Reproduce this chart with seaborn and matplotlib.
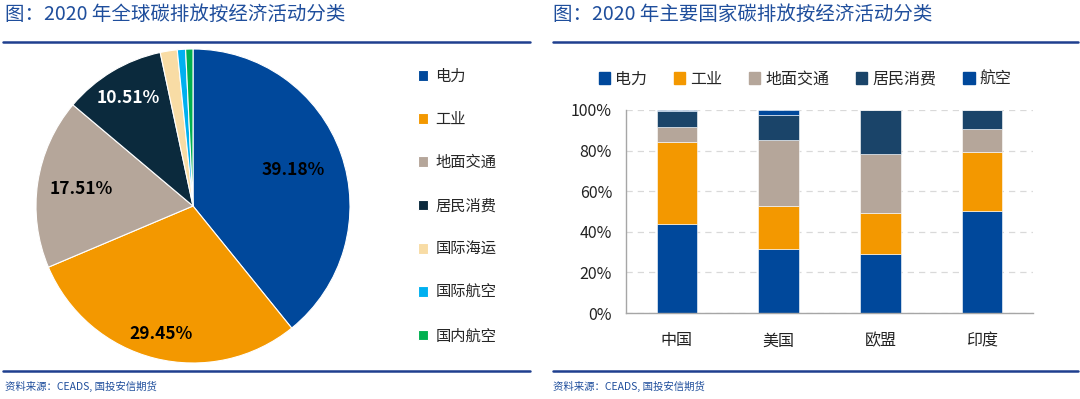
import matplotlib
matplotlib.use("Agg")
import matplotlib.pyplot as plt
import seaborn as sns
import pandas as pd
import numpy as np
from matplotlib.lines import Line2D
from matplotlib.patches import Patch

sns.set_theme(style="white")
plt.rcParams['font.family'] = ['Noto Sans CJK SC', 'DejaVu Sans']

# --- data: global pie ---
pie_labels = ['电力', '工业', '地面交通', '居民消费', '国际海运', '国际航空', '国内航空']
pie_values = [39.18, 29.45, 17.51, 10.51, 1.75, 0.85, 0.75]
pie_colors = ['#00489B', '#F39800', '#B5A69A', '#0B2A3D', '#F8DCA5', '#00B0F0', '#00B050']

# --- data: country stacked bars ---
countries = ['中国', '美国', '欧盟', '印度']
bar_series = ['电力', '工业', '地面交通', '居民消费', '航空']
power = [43.8, 31.3, 29.0, 50.4]
industry = [40.5, 21.4, 20.3, 29.0]
ground = [7.5, 32.5, 29.0, 11.4]
residential = [7.5, 12.2, 21.5, 9.0]
aviation = [0.7, 2.6, 0.2, 0.2]
bar_colors = ['#00489B', '#F39800', '#B5A69A', '#1A4469', '#00489B']

title_color = '#1F4E9C'
line_color = '#1F3F8F'

fig = plt.figure(figsize=(10.8, 3.99), dpi=100)

# titles and frame lines
for x0, txt in [(5, '图：2020 年全球碳排放按经济活动分类'), (553, '图：2020 年主要国家碳排放按经济活动分类')]:
    fig.text(x0 / 1080, 1 - 14 / 399, txt, color=title_color,
             fontsize=14, fontweight='medium', va='center', ha='left')
    fig.text(x0 / 1080, 1 - 386 / 399, '资料来源：CEADS, 国投安信期货', color=title_color,
             fontsize=7.5, style='italic', va='center', ha='left')
for x0, x1 in [(3, 530), (553, 1078)]:
    for yy in (42, 371):
        fig.add_artist(Line2D([x0 / 1080, x1 / 1080], [1 - yy / 399, 1 - yy / 399],
                              color=line_color, lw=1.8, transform=fig.transFigure))

# --- pie ---
ax1 = fig.add_axes([36 / 1080, 1 - 363 / 399, 314 / 1080, 314 / 399])
wedges, _ = ax1.pie(pie_values, colors=pie_colors, startangle=90, counterclock=False,
                    radius=1, wedgeprops={'linewidth': 0.8, 'edgecolor': 'white'})
ax1.set_xlim(-1, 1)
ax1.set_ylim(-1, 1)
ax1.set_aspect('equal')
lbl_pos = {0: 0.68, 1: 0.84, 2: 0.72, 3: 0.80}
for i in range(4):
    w = wedges[i]
    ang = np.deg2rad((w.theta1 + w.theta2) / 2)
    r = lbl_pos[i]
    ax1.text(r * np.cos(ang), r * np.sin(ang), f'{pie_values[i]:.2f}%',
             ha='center', va='center', fontsize=12.5, fontweight='bold',
             color='white' if i == 3 else 'black')

ax1.legend(wedges, pie_labels, loc='upper left', bbox_to_anchor=(374 / 314, 0.965),
           frameon=False, fontsize=11, handlelength=0.7, handleheight=0.7,
           handletextpad=0.45, labelspacing=1.72, borderpad=0)

# --- stacked bars ---
ax2 = fig.add_axes([626 / 1080, 1 - 313 / 399, 407 / 1080, 203 / 399])
df = pd.DataFrame({'国家': countries, '电力': power, '工业': industry,
                   '地面交通': ground, '居民消费': residential, '航空': aviation})
bottom = np.zeros(len(countries))
for name, col in zip(bar_series, bar_colors):
    sns.barplot(data=df, x='国家', y=name, color=col, bottom=bottom, width=0.4,
                ax=ax2, saturation=1, edgecolor='white', linewidth=0.4)
    bottom = bottom + df[name].values

ax2.set_ylim(0, 100)
ax2.set_xlim(-0.5, 3.5)
ax2.set_yticks(range(0, 101, 20))
ax2.set_yticklabels([f'{v}%' for v in range(0, 101, 20)], fontsize=11.5, color='#222222')
ax2.tick_params(axis='x', labelsize=11.5, colors='#222222', length=0, pad=14)
ax2.tick_params(axis='y', length=5, color='#999999', direction='out', pad=5)
ax2.set_xlabel('')
ax2.set_ylabel('')
ax2.yaxis.grid(True, linestyle=(0, (5, 4)), color='#D9D9D9', linewidth=0.9)
ax2.set_axisbelow(True)
for s in ['top', 'right']:
    ax2.spines[s].set_visible(False)
for s in ['left', 'bottom']:
    ax2.spines[s].set_color('#A6A6A6')
    ax2.spines[s].set_linewidth(1.0)

handles = [Patch(color=c) for c in bar_colors]
ax2.legend(handles, bar_series, loc='lower center', bbox_to_anchor=(0.44, 1.04),
           ncol=5, frameon=False, fontsize=11.5, handlelength=0.7, handleheight=0.7,
           handletextpad=0.3, columnspacing=1.7)

fig.savefig('out.png', dpi=100)
